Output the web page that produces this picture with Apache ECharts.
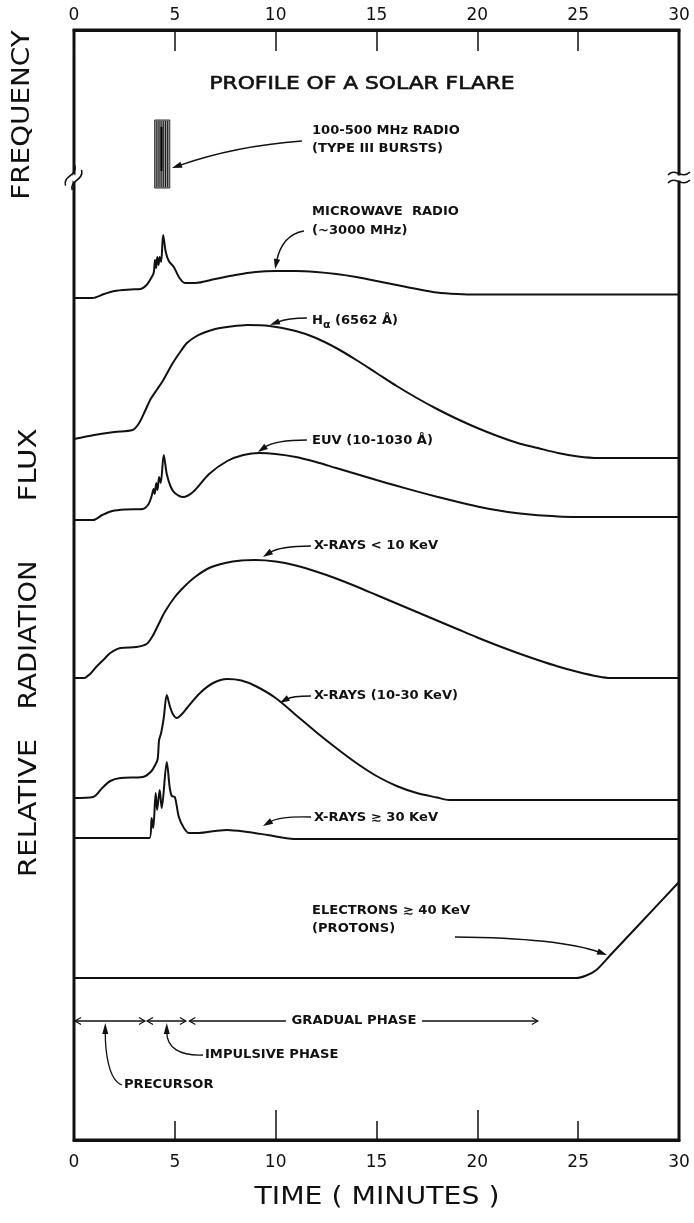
<!DOCTYPE html>
<html>
<head>
<meta charset="utf-8">
<script src="https://cdn.jsdelivr.net/npm/echarts@6/dist/echarts.min.js"></script>
<style>
  html, body { margin: 0; padding: 0; background: #fff; }
  #chart { width: 694px; height: 1223px; }
</style>
</head>
<body>
<div id="chart"></div>
<script>
// ---- Time axis (minutes) ----
const timeTicks = [0, 5, 10, 15, 20, 25, 30];

// ---- Flux profiles: [minutes, relative flux above each trace's own baseline] ----
const microwave = [[0,0],[0.9,0],[1.5,0.4],[2.0,0.7],[2.8,0.85],[3.3,0.9],[3.6,1.3],[3.8,1.9],[3.95,2.5],[4.02,3.8],[4.07,3.0],[4.13,4.1],[4.19,3.3],[4.25,4.1],[4.32,3.6],[4.42,6.3],[4.55,4.6],[4.7,3.7],[4.95,3.1],[5.2,2.1],[5.5,1.5],[6.0,1.5],[7,1.9],[8,2.3],[9,2.6],[10,2.7],[11,2.7],[12,2.6],[13,2.4],[14,2.1],[15,1.7],[16,1.3],[17,0.9],[18,0.55],[19,0.4],[20,0.35],[30,0.35]];
const halpha = [[0,0],[1,0.4],[2,0.7],[2.9,0.9],[3.2,1.5],[3.5,2.7],[3.8,4.0],[4.1,4.9],[4.4,5.8],[4.9,7.6],[5.3,8.8],[5.6,9.6],[6.0,10.2],[6.4,10.6],[7.0,11.0],[7.6,11.2],[8.6,11.4],[9.7,11.3],[11,10.8],[12,10.1],[13,9.1],[14,7.9],[15,6.6],[16,5.3],[17,4.1],[18,3.0],[19,2.0],[20,1.1],[21,0.3],[22,-0.4],[23,-0.9],[24,-1.4],[25,-1.75],[26,-1.9],[30,-1.9]];
const euv = [[0,0],[0.95,0],[1.4,0.5],[1.9,0.9],[2.6,1.05],[3.4,1.1],[3.7,1.6],[3.85,2.4],[3.95,3.1],[4.0,2.6],[4.08,3.7],[4.14,3.0],[4.22,4.3],[4.3,3.7],[4.45,6.5],[4.6,4.6],[4.8,3.3],[5.0,2.7],[5.4,2.3],[5.9,2.8],[6.7,4.6],[7.6,5.9],[8.4,6.5],[9.2,6.7],[10,6.6],[11,6.3],[12,5.8],[13,5.2],[14,4.6],[15,4.0],[16,3.42],[17,2.86],[18,2.32],[19,1.82],[20,1.36],[21,0.97],[22,0.67],[23,0.47],[24,0.36],[25,0.31],[26,0.3],[30,0.3]];
const xraySoft = [[0,0],[0.5,0],[0.8,0.4],[1.1,1.1],[1.5,1.9],[1.8,2.5],[2.3,3.0],[3.1,3.1],[3.6,3.4],[3.9,4.2],[4.2,5.4],[4.5,6.6],[5.0,8.1],[5.5,9.2],[6.0,10.1],[6.7,11.0],[7.5,11.5],[8.3,11.75],[9,11.8],[10,11.65],[11,11.25],[12,10.65],[13,9.95],[14,9.15],[15,8.3],[16,7.45],[17,6.6],[18,5.75],[19,4.9],[20,4.05],[21,3.25],[22,2.5],[23,1.8],[24,1.15],[25,0.6],[26,0.15],[26.6,0],[30,0]];
const xrayMid = [[0,0],[0.95,0.1],[1.4,1.0],[1.8,1.7],[2.3,2.0],[3.4,2.1],[3.8,2.6],[4.05,3.4],[4.15,3.9],[4.22,5.8],[4.32,6.5],[4.45,8.0],[4.6,10.3],[4.75,9.2],[4.9,8.4],[5.1,8.0],[5.4,8.5],[5.6,9.0],[6.25,10.5],[6.9,11.5],[7.6,11.9],[8.3,11.75],[9,11.2],[10,10.0],[11,8.3],[12,6.6],[13,5.0],[14,3.5],[15,2.2],[16,1.2],[17,0.5],[18,0.05],[18.6,-0.2],[30,-0.2]];
const xrayHard = [[0,0],[3.75,0],[3.85,2.0],[3.93,1.0],[4.05,4.5],[4.12,2.8],[4.25,4.8],[4.35,3.0],[4.6,7.6],[4.75,5.0],[4.85,4.2],[5.0,4.1],[5.2,2.1],[5.45,1.0],[5.7,0.5],[6.2,0.5],[7.0,0.7],[7.6,0.8],[8.6,0.6],[9.6,0.3],[10.9,-0.1],[30,-0.1]];
const electrons = [[0,0],[24.9,0],[25.4,0.25],[25.9,0.8],[26.6,2.3],[28,5.3],[30,9.6]];

// Baseline level of each stacked trace on the shared flux scale
const baselines = [84.2, 70.1, 62.0, 46.2, 34.2, 30.2, 16.2];

// Type III burst in the frequency panel: [start min, end min, low, high]
const typeIIIBurst = [[4.0, 4.75, 95.2, 102.0]];

// Flare phases along the time axis
const phaseNames = ['PRECURSOR', 'IMPULSIVE PHASE', 'GRADUAL PHASE'];
const phaseStart = [0.05, 3.62, 5.72];
const phaseEnd = [3.52, 5.55, 23.0];

const INK = '#111';
const FONT = "'DejaVu Sans', sans-serif";

const profiles = [microwave, halpha, euv, xraySoft, xrayMid, xrayHard, electrons];
const profileNames = ['Microwave', 'H-alpha', 'EUV', 'X-rays <10 keV', 'X-rays 10-30 keV', 'X-rays >=30 keV', 'Electrons'];

const chart = echarts.init(document.getElementById('chart'));

const lineSeries = profiles.map((prof, i) => ({
  type: 'line',
  name: profileNames[i],
  data: prof.map(([t, f]) => [t, baselines[i] + f]),
  smooth: 0.3,
  showSymbol: false,
  silent: true,
  lineStyle: { color: INK, width: 2 },
  z: 3
}));

const burstSeries = {
  type: 'custom',
  name: 'Type III bursts',
  data: typeIIIBurst,
  silent: true,
  encode: { x: [0, 1], y: [2, 3] },
  renderItem(params, api) {
    const a = api.coord([api.value(0), api.value(3)]);
    const b = api.coord([api.value(1), api.value(2)]);
    const x = a[0], y = a[1], w = b[0] - a[0], h = b[1] - a[1];
    const kids = [{ type: 'rect', shape: { x, y, width: w, height: h }, style: { fill: '#9a9a9a', stroke: '#333', lineWidth: 1 } }];
    const n = 7;
    for (let i = 1; i < n; i++) {
      const xx = x + (w * i) / n;
      kids.push({ type: 'line', shape: { x1: xx, y1: y + 1, x2: xx, y2: y + h - 1 }, style: { stroke: '#1a1a1a', lineWidth: 1 } });
    }
    kids.push({ type: 'line', shape: { x1: x + w * 0.45, y1: y + h * 0.1, x2: x + w * 0.45, y2: y + h * 0.75 }, style: { stroke: '#000', lineWidth: 2 } });
    return { type: 'group', children: kids };
  },
  z: 3
};

const axisLabel = { fontFamily: FONT, fontSize: 17, color: INK };

chart.setOption({
  animation: false,
  backgroundColor: '#fff',
  grid: { left: 74, right: 15, top: 30, bottom: 83, show: true, borderColor: INK, borderWidth: 3 },
  xAxis: [
    { type: 'value', position: 'bottom', min: 0, max: 30, interval: 5,
      axisLine: { show: true, lineStyle: { color: INK, width: 3 } },
      axisTick: { show: true, inside: true, length: 19, lineStyle: { color: INK, width: 1.5 } },
      axisLabel: { ...axisLabel, margin: 14 }, splitLine: { show: false } },
    { type: 'value', position: 'top', min: 0, max: 30, interval: 5,
      axisLine: { show: true, lineStyle: { color: INK, width: 3 } },
      axisTick: { show: true, inside: true, length: 21, lineStyle: { color: INK, width: 1.5 } },
      axisLabel: { ...axisLabel, margin: 6 }, splitLine: { show: false } },
    { type: 'value', position: 'bottom', min: 0, max: 30, interval: 10,
      axisLine: { show: false },
      axisTick: { show: true, inside: true, length: 30, lineStyle: { color: INK, width: 1.5 } },
      axisLabel: { show: false }, splitLine: { show: false } }
  ],
  yAxis: { type: 'value', min: 0, max: 111, show: false },
  series: [...lineSeries, burstSeries]
});

// ---- Annotations ----
const P = (t, v) => chart.convertToPixel({ gridIndex: 0 }, [t, v]);

function label(text, x, y, opts = {}) {
  const weight = opts.weight || 'bold';
  const style = {
    text, fill: INK,
    font: `${weight} ${opts.size || 12}px ${FONT}`,
    textAlign: opts.align || 'left', align: opts.align || 'left',
    textVerticalAlign: 'middle', verticalAlign: 'middle',
    rich: opts.rich
  };
  if (opts.edge) { style.stroke = INK; style.lineWidth = opts.edge; }
  return { type: 'text', x, y, scaleX: opts.sx || 1.09, rotation: opts.rot || 0, silent: true, z: 10, style };
}

function curvedArrow(p0, cp, p1, hl = 10, hw = 3.2) {
  const dx = p1[0] - cp[0], dy = p1[1] - cp[1];
  const L = Math.hypot(dx, dy) || 1;
  const ux = dx / L, uy = dy / L;
  const bx = p1[0] - ux * hl * 0.8, by = p1[1] - uy * hl * 0.8;
  const hx = p1[0] - ux * hl, hy = p1[1] - uy * hl;
  return [
    { type: 'bezierCurve', silent: true, z: 10,
      shape: { x1: p0[0], y1: p0[1], cpx1: cp[0], cpy1: cp[1], x2: bx, y2: by },
      style: { stroke: INK, lineWidth: 1.4, fill: null } },
    { type: 'polygon', silent: true, z: 10,
      shape: { points: [[p1[0], p1[1]], [hx - uy * hw, hy + ux * hw], [hx + uy * hw, hy - ux * hw]] },
      style: { fill: INK } }
  ];
}

function openHead(x, y, dir) {
  return { type: 'polyline', silent: true, z: 10,
    shape: { points: [[x - dir * 6, y - 3.5], [x, y], [x - dir * 6, y + 3.5]] },
    style: { stroke: INK, lineWidth: 1.2, fill: null } };
}

function hLine(x1, x2, y) {
  return { type: 'line', silent: true, z: 10, shape: { x1, y1: y, x2, y2: y }, style: { stroke: INK, lineWidth: 1.3 } };
}

function breakMark(cx, cy, rot) {
  return { type: 'group', x: cx, y: cy, rotation: rot, silent: true, z: 20, children: [
    { type: 'rect', shape: { x: -3, y: -2.5, width: 6, height: 5 }, style: { fill: '#fff' } },
    { type: 'bezierCurve', shape: { x1: -11, y1: -3, cpx1: -4, cpy1: -11, cpx2: 3, cpy2: 2, x2: 11, y2: -6 }, style: { stroke: INK, lineWidth: 1.6, fill: null } },
    { type: 'bezierCurve', shape: { x1: -11, y1: 5, cpx1: -4, cpy1: -3, cpx2: 3, cpy2: 10, x2: 11, y2: 2 }, style: { stroke: INK, lineWidth: 1.6, fill: null } }
  ] };
}

const g = [];

// Titles and axis names
g.push(label('PROFILE OF A SOLAR FLARE', 362, 84, { size: 18, align: 'center', sx: 1.21, weight: 'normal', edge: 0.6 }));
g.push(label('TIME ( MINUTES )', 377, 1198, { size: 24, align: 'center', sx: 1.18, weight: 'normal' }));
g.push(label('FREQUENCY', 23, 115, { size: 24, align: 'center', sx: 1.16, rot: Math.PI / 2, weight: 'normal' }));
g.push(label('FLUX', 30, 465, { size: 24, align: 'center', sx: 1.22, rot: Math.PI / 2, weight: 'normal' }));
g.push(label('RADIATION', 30, 635, { size: 24, align: 'center', sx: 1.14, rot: Math.PI / 2, weight: 'normal' }));
g.push(label('RELATIVE', 30, 808, { size: 24, align: 'center', sx: 1.22, rot: Math.PI / 2, weight: 'normal' }));

// Trace labels
g.push(label('100-500 MHz RADIO', 312, 131));
g.push(label('(TYPE III BURSTS)', 312, 149));
g.push(label('MICROWAVE  RADIO', 312, 212));
g.push(label('(~3000 MHz)', 312, 231));
g.push(label('H{a|α} (6562 Å)', 312, 321, { rich: { a: { font: `bold 10px ${FONT}`, fill: INK, padding: [8, 0, 0, 0] } } }));
g.push(label('EUV (10-1030 Å)', 312, 441));
g.push(label('X-RAYS < 10 KeV', 314, 546));
g.push(label('X-RAYS (10-30 KeV)', 314, 696));
g.push(label('X-RAYS ≳ 30 KeV', 314, 818));
g.push(label('ELECTRONS ≳ 40 KeV', 312, 911));
g.push(label('(PROTONS)', 312, 929));

// Arrows pointing at the traces (positions on the time/flux scale)
g.push(...curvedArrow(P(11.30, 99.9), P(7.98, 99.4), P(4.86, 97.2)));
g.push(...curvedArrow(P(11.40, 90.9), P(10.31, 90.5), P(9.97, 87.1)));
g.push(...curvedArrow(P(11.55, 82.2), P(10.61, 82.2), P(9.72, 81.5)));
g.push(...curvedArrow(P(11.55, 70.0), P(9.97, 70.0), P(9.12, 68.8)));
g.push(...curvedArrow(P(11.75, 59.4), P(10.21, 59.4), P(9.37, 58.3)));
g.push(...curvedArrow(P(11.75, 44.4), P(10.81, 44.4), P(10.2, 43.7)));
g.push(...curvedArrow(P(11.75, 32.3), P(10.21, 32.4), P(9.37, 31.4)));
g.push(...curvedArrow(P(18.89, 20.3), P(24.10, 20.2), P(26.43, 18.5)));

// Phase spans
const rowY = 1021;
const xs = phaseStart.map(t => P(t, 0)[0]);
const xe = phaseEnd.map(t => P(t, 0)[0]);
g.push(hLine(xs[0], xe[0], rowY), openHead(xs[0], rowY, -1), openHead(xe[0], rowY, 1));
g.push(hLine(xs[1], xe[1], rowY), openHead(xs[1], rowY, -1), openHead(xe[1], rowY, 1));
const gradMid = 354;
g.push(hLine(xs[2], gradMid - 68, rowY), hLine(gradMid + 68, xe[2], rowY), openHead(xs[2], rowY, -1), openHead(xe[2], rowY, 1));
g.push(label(phaseNames[2], gradMid, rowY, { align: 'center', sx: 1.1 }));
g.push(label(phaseNames[1], 205, 1055));
g.push(label(phaseNames[0], 124, 1085));

// Pointers from the phase names up to the span row
const pre = P(1.55, 0)[0], imp = P(4.6, 0)[0];
g.push({ type: 'bezierCurve', silent: true, z: 10, shape: { x1: 122, y1: 1085, cpx1: 108, cpy1: 1080, cpx2: pre, cpy2: 1050, x2: pre, y2: 1032 }, style: { stroke: INK, lineWidth: 1.3, fill: null } });
g.push({ type: 'polygon', silent: true, z: 10, shape: { points: [[pre, rowY + 2], [pre - 3, rowY + 13], [pre + 3, rowY + 13]] }, style: { fill: INK } });
g.push({ type: 'bezierCurve', silent: true, z: 10, shape: { x1: 203, y1: 1055, cpx1: 180, cpy1: 1056, cpx2: imp, cpy2: 1048, x2: imp, y2: 1032 }, style: { stroke: INK, lineWidth: 1.3, fill: null } });
g.push({ type: 'polygon', silent: true, z: 10, shape: { points: [[imp, rowY + 2], [imp - 3, rowY + 13], [imp + 3, rowY + 13]] }, style: { fill: INK } });

// Axis breaks between the frequency and flux panels
const brk = 96.2;
g.push(breakMark(P(0, brk)[0], P(0, brk)[1], 1.0));
g.push(breakMark(P(30, brk)[0], P(30, brk)[1], 0));

chart.setOption({ graphic: { elements: g } });
</script>
</body>
</html>
